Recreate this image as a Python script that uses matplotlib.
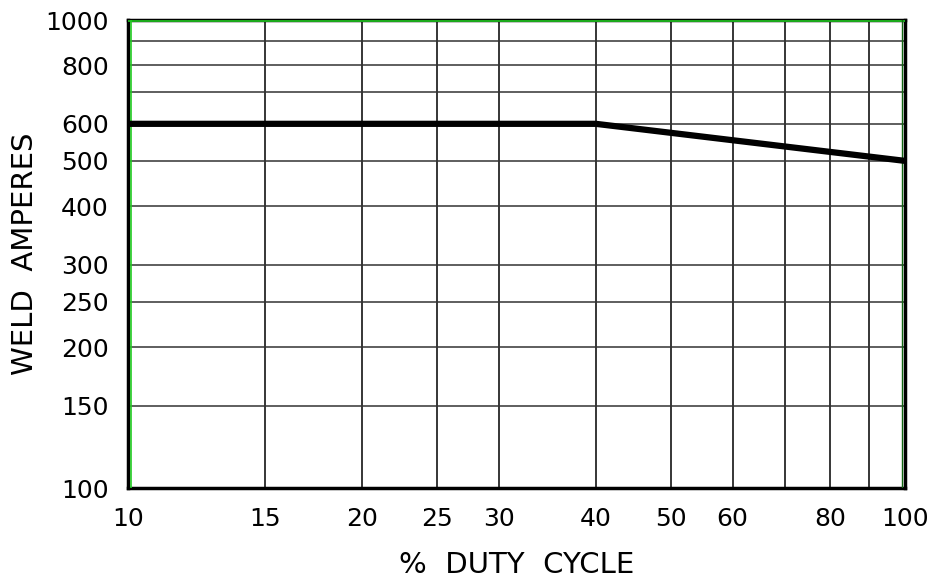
import numpy as np
import matplotlib
matplotlib.use("Agg")
import matplotlib.pyplot as plt
from matplotlib.ticker import FixedLocator, NullLocator

# rated output curve
duty_cycle = [10, 40, 100]
weld_amps = [600, 600, 500]

x_grid = [10, 15, 20, 25, 30, 40, 50, 60, 70, 80, 90, 100]
x_labels = [10, 15, 20, 25, 30, 40, 50, 60, 80, 100]
y_grid = [100, 150, 200, 250, 300, 400, 500, 600, 700, 800, 900, 1000]
y_labels = [100, 150, 200, 250, 300, 400, 500, 600, 800, 1000]

W, H = 941, 580
fig = plt.figure(figsize=(W / 100, H / 100), dpi=100)
ax = fig.add_axes([128 / W, 1 - 488 / H, (905 - 128) / W, (488 - 20) / H])
ax.set_xscale("log")
ax.set_yscale("log")
ax.set_xlim(10, 100)
ax.set_ylim(100, 1000)

for xv in x_grid[1:-1]:
    ax.axvline(xv, color="black", lw=1.1, zorder=1)
for yv in y_grid[1:-1]:
    ax.axhline(yv, color="#333333", lw=1.1, zorder=1)

ax.plot(duty_cycle, weld_amps, color="black", lw=4.5, solid_capstyle="butt", zorder=5)

# inner green frame line on left, top, right
ax.plot([10.08, 10.08], [100, 1000], color="#22cc22", lw=1.2, zorder=4)
ax.plot([10, 100], [993, 993], color="#22cc22", lw=1.2, zorder=4)
ax.plot([99.2, 99.2], [100, 1000], color="#116611", lw=1.0, zorder=4)

for s in ax.spines.values():
    s.set_linewidth(2.5)
    s.set_color("black")

ax.xaxis.set_major_locator(FixedLocator(x_labels))
ax.yaxis.set_major_locator(FixedLocator(y_labels))
ax.xaxis.set_minor_locator(NullLocator())
ax.yaxis.set_minor_locator(NullLocator())
ax.set_xticklabels([str(v) for v in x_labels])
ax.set_yticklabels([str(v) for v in y_labels])
ax.tick_params(length=0, labelsize=18, pad=14)
ax.tick_params(axis="y", pad=14)

ax.set_xlabel("%  DUTY  CYCLE", fontsize=21, labelpad=14)
ax.set_ylabel("WELD  AMPERES", fontsize=21, labelpad=4)

fig.savefig("out.png", dpi=100)
